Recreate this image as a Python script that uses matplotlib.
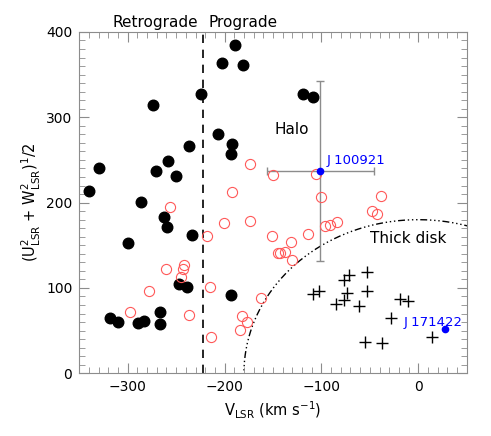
import numpy as np
import matplotlib
matplotlib.use("Agg")
import matplotlib.pyplot as plt
from matplotlib.ticker import MultipleLocator

# halo stars (filled black)
halo_v = [-188.8, -202.3, -180.6, -224.4, -274.0, -206.4, -192.0, -193.4, -237.1,
          -258.5, -271.2, -250.3, -329.9, -340.2, -286.5, -119.5, -109.2,
          -263.0, -259.6, -299.5, -233.3, -247.5, -239.2, -193.4, -318.8, -310.2,
          -289.6, -282.9, -267.1, -267.1]
halo_uw = [385.0, 363.6, 360.8, 327.3, 314.8, 280.4, 268.7, 257.0, 266.0,
           248.4, 237.5, 231.6, 240.2, 213.2, 201.2, 327.3, 323.3,
           183.6, 171.0, 153.2, 162.2, 104.8, 101.6, 92.3, 64.5, 60.3,
           59.1, 61.8, 71.5, 58.3]

# transition stars (open red)
mid_v = [-174.2, -150.5, -192.5, -256.5, -201.1, -173.3, -218.3, -151.2, -131.2,
         -114.3, -143.0, -137.8, -130.4, -105.5, -100.9, -38.3, -47.6, -43.0,
         -83.8, -91.3, -96.2, -144.4, -260.2, -242.3, -243.0, -245.4, -278.5,
         -297.4, -236.4, -215.1, -162.4, -182.3, -176.4, -184.4, -214.4]
mid_uw = [245.4, 232.0, 212.5, 194.5, 176.0, 179.0, 161.2, 160.5, 153.5,
          163.8, 141.1, 141.8, 132.3, 233.6, 206.1, 207.8, 189.8, 186.8,
          177.8, 174.2, 172.2, 140.6, 122.4, 127.0, 122.4, 112.5, 96.1,
          72.4, 68.5, 101.3, 88.8, 67.7, 59.8, 50.5, 43.1]

# thick disk stars (crosses)
disk_v = [-53.4, -71.7, -76.5, -53.4, -74.0, -109.2, -102.4, -76.5, -85.1, -61.3,
          -18.6, -10.3, -27.9, -55.1, -37.8, 14.2]
disk_uw = [119.2, 115.3, 109.8, 96.1, 94.3, 93.1, 97.0, 86.0, 81.4, 79.4,
           87.2, 85.2, 65.0, 36.9, 35.2, 42.3]

# the two program stars
star_names = ["J 100921", "J 171422"]
star_v = [-101.0, 27.6]
star_uw = [237.0, 52.0]
star_v_err = [55.0, 0.0]
star_uw_err = [105.5, 0.0]

split_v = -222.0
disk_radius = 180.0

fig = plt.figure(figsize=(4.91, 4.36), dpi=100)
ax = fig.add_axes([0.1615, 0.1438, 0.789, 0.783])

ax.plot(halo_v, halo_uw, 'o', color='black', ms=7.6, zorder=3)
ax.plot(mid_v, mid_uw, 'o', mfc='none', mec='#ff5a5a', ms=7.3, mew=0.8, zorder=3)
ax.plot(disk_v, disk_uw, '+', color='black', ms=8, mew=1.0, zorder=3)

# error bars on J 100921
ax.errorbar(star_v[0], star_uw[0], xerr=star_v_err[0], yerr=star_uw_err[0],
            fmt='none', ecolor='#8c8c8c', elinewidth=1.0, capsize=3, capthick=1.0, zorder=2)
ax.plot(star_v, star_uw, 'o', color='blue', ms=4.5, zorder=4)
ax.text(star_v[0] + 6, star_uw[0] + 8, star_names[0], color='blue', fontsize=9.5)
ax.text(star_v[1] - 43, star_uw[1] + 4, star_names[1], color='blue', fontsize=9.5)

# thick disk boundary
th = np.linspace(0, np.pi, 400)
cx = disk_radius * np.cos(th)
cy = disk_radius * np.sin(th)
ax.plot(cx, cy, color='black', lw=1.0, ls=(0, (5, 2, 1, 2, 1, 2, 1, 2)), zorder=1)

ax.axvline(split_v, color='black', lw=1.2, ls=(0, (5, 4)), zorder=1)

ax.text(-131, 286, "Halo", fontsize=11, ha='center', va='center')
ax.text(-50, 158, "Thick disk", fontsize=11, ha='left', va='center')
ax.text(split_v - 5, 411, "Retrograde", fontsize=11, ha='right', va='center', clip_on=False)
ax.text(split_v + 5, 411, "Prograde", fontsize=11, ha='left', va='center', clip_on=False)

ax.set_xlim(-350, 50)
ax.set_ylim(0, 400)
ax.xaxis.set_major_locator(MultipleLocator(100))
ax.xaxis.set_minor_locator(MultipleLocator(10))
ax.yaxis.set_major_locator(MultipleLocator(100))
ax.yaxis.set_minor_locator(MultipleLocator(10))
ax.tick_params(which='both', direction='in', top=True, right=True, color='#8c8c8c',
               labelsize=10, pad=5)
ax.tick_params(which='major', length=7)
ax.tick_params(which='minor', length=4)
for s in ax.spines.values():
    s.set_color('#8c8c8c')

ax.set_xlabel(r'V$_{\rm LSR}$ (km s$^{-1}$)', fontsize=10.5, labelpad=4)
ax.set_ylabel(r'(U$^2_{\rm LSR}$ + W$^2_{\rm LSR}$)$^1$/2', fontsize=10.5, labelpad=2)

fig.savefig('out.png', dpi=100)
